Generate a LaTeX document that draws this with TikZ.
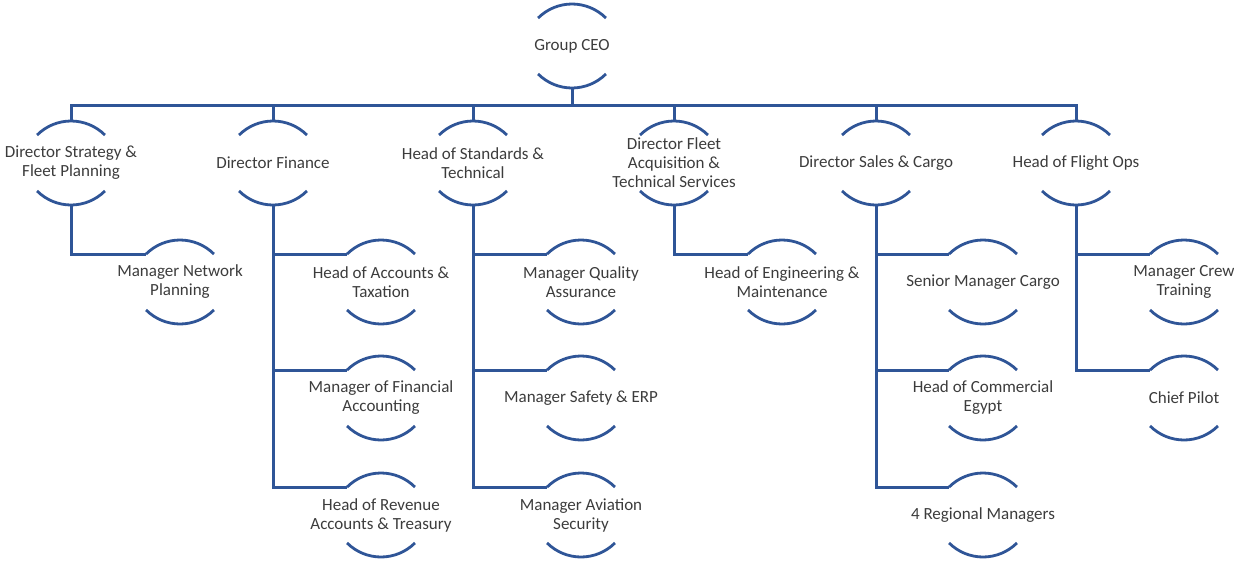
\documentclass[tikz,border=0pt]{standalone}
\usepackage{fontspec}
\setmainfont{Carlito}
\usetikzlibrary{arrows.meta}
\definecolor{chartblue}{RGB}{47,85,151}
\definecolor{chartgray}{RGB}{60,60,60}

\begin{document}
\begin{tikzpicture}[x=1pt,y=1pt,
    role/.style={align=center,inner sep=0pt,text=chartgray,
      font=\fontsize{17}{19}\selectfont},
    link/.style={chartblue,line width=3pt},
    bracket/.style={chartblue,line width=2.8pt}]
  \useasboundingbox (0,0) rectangle (1234,-563);
  \def\half{42pt}
  \def\rad{48pt}
  % board level
  \node[role] (ceo) at (572,-46) {Group CEO};
  \node[role] (strat) at (71,-163) {Director Strategy \&\\Fleet Planning};
  \node[role] (fin) at (273,-163) {Director Finance};
  \node[role] (std) at (473,-163) {Head of Standards \&\\Technical};
  \node[role] (fleet) at (674,-163) {Director Fleet\\Acquisition \&\\Technical Services};
  \node[role] (sales) at (876,-163) {Director Sales \& Cargo};
  \node[role] (ops) at (1076,-163) {Head of Flight Ops};
  % reports
  \node[role] (netplan) at (180,-282) {Manager Network\\Planning};
  \node[role] (acctax) at (381,-282) {Head of Accounts \&\\Taxation};
  \node[role] (finacc) at (381,-398) {Manager of Financial\\Accounting};
  \node[role] (revtreas) at (381,-515) {Head of Revenue\\Accounts \& Treasury};
  \node[role] (qa) at (581,-282) {Manager Quality\\Assurance};
  \node[role] (safety) at (581,-398) {Manager Safety \& ERP};
  \node[role] (avsec) at (581,-515) {Manager Aviation\\Security};
  \node[role] (engmaint) at (782,-282) {Head of Engineering \&\\Maintenance};
  \node[role] (cargo) at (983,-282) {Senior Manager Cargo};
  \node[role] (commegypt) at (983,-398) {Head of Commercial\\Egypt};
  \node[role] (regional) at (983,-515) {4 Regional Managers};
  \node[role] (crew) at (1184,-282) {Manager Crew\\Training};
  \node[role] (pilot) at (1184,-398) {Chief Pilot};
  % half-circle brackets above and below every role
  \foreach \n in {ceo,strat,fin,std,fleet,sales,ops,netplan,acctax,finacc,
      revtreas,qa,safety,avsec,engmaint,cargo,commegypt,regional,crew,pilot}{
    \coordinate (\n-top) at ([yshift=\half]\n.center);
    \coordinate (\n-bot) at ([yshift=-\half]\n.center);
    \coordinate (\n-in) at ([shift={(-34,28)}]\n.center);
    \draw[bracket] (\n-top) arc[start angle=90,end angle=135,radius=\rad]
      (\n-top) arc[start angle=90,end angle=45,radius=\rad]
      (\n-bot) arc[start angle=270,end angle=225,radius=\rad]
      (\n-bot) arc[start angle=270,end angle=315,radius=\rad];
  }
  % bus under the CEO
  \coordinate (bus) at ([yshift=-17pt]ceo-bot);
  \draw[link] (ceo-bot) -- (bus);
  \draw[link] (strat-top) |- (bus) -| (ops-top);
  \foreach \n in {fin,std,fleet,sales}
    \draw[link] (\n-top |- bus) -- (\n-top);
  % reporting lines
  \foreach \p/\c in {strat/netplan,fin/acctax,fin/finacc,fin/revtreas,
      std/qa,std/safety,std/avsec,fleet/engmaint,sales/cargo,
      sales/commegypt,sales/regional,ops/crew,ops/pilot}
    \draw[link] (\p-bot) |- (\c-in);
\end{tikzpicture}
\end{document}
